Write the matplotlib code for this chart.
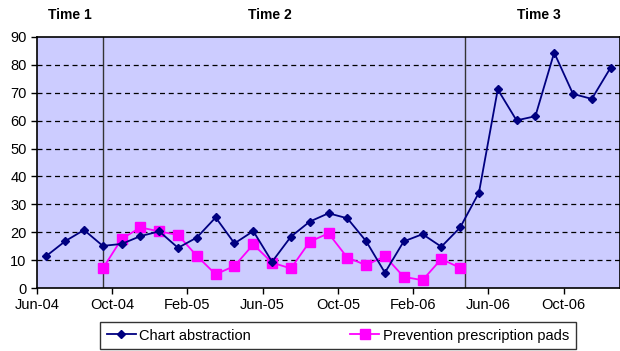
import matplotlib
matplotlib.use("Agg")
import matplotlib.pyplot as plt
import numpy as np

plt.rcParams['font.family'] = ['Liberation Sans', 'DejaVu Sans']

# monthly values, Jun-04 .. Dec-06
months = ['Jun-04', 'Jul-04', 'Aug-04', 'Sep-04', 'Oct-04', 'Nov-04', 'Dec-04',
          'Jan-05', 'Feb-05', 'Mar-05', 'Apr-05', 'May-05', 'Jun-05', 'Jul-05',
          'Aug-05', 'Sep-05', 'Oct-05', 'Nov-05', 'Dec-05', 'Jan-06', 'Feb-06',
          'Mar-06', 'Apr-06', 'May-06', 'Jun-06', 'Jul-06', 'Aug-06', 'Sep-06',
          'Oct-06', 'Nov-06', 'Dec-06']
chart_abstraction = [11.5, 16.8, 20.8, 15.1, 15.8, 18.6, 20.3, 14.4, 18.1, 25.3,
                     16.0, 20.4, 9.4, 18.4, 23.8, 26.8, 25.0, 16.8, 5.5, 16.7,
                     19.3, 14.8, 21.7, 34.2, 71.2, 60.1, 61.6, 84.4, 69.6, 67.8,
                     79.0]
# prevention pads start Sep-04 and end Apr-06
pads_start = 3
prevention_pads = [7.0, 17.6, 21.7, 20.3, 19.0, 11.5, 4.9, 7.9, 15.6, 9.1, 7.0,
                   16.6, 19.6, 10.9, 8.2, 11.4, 4.0, 2.8, 10.4, 7.2]
period_labels = ['Time 1', 'Time 2', 'Time 3']
period_breaks = [3, 22.25]

x = np.arange(len(months))
x_pads = np.arange(pads_start, pads_start + len(prevention_pads))

fig = plt.figure(figsize=(6.2, 3.51), dpi=100)
ax = fig.add_axes([37 / 620, 1 - 288 / 351, 1 - 37 / 620, (288 - 37) / 351])
ax.set_facecolor('#CCCCFF')

for y in range(10, 90, 10):
    ax.axhline(y, color='black', lw=0.9, ls=(0, (4, 3)), zorder=1)
for b in period_breaks:
    ax.axvline(b, color='#333333', lw=1.0, zorder=2)

ax.plot(x, chart_abstraction, color='#000080', lw=1.3, marker='D', ms=4.5,
        label='Chart abstraction', zorder=4)
ax.plot(x_pads, prevention_pads, color='#FF00FF', lw=1.3, marker='s', ms=6.5,
        label='Prevention prescription pads', zorder=3)

ax.set_xlim(-0.5, len(months) - 0.5)
ax.set_ylim(0, 90)
ax.set_yticks(range(0, 91, 10))
tick_pos = np.arange(0, len(months), 4) - 0.5
ax.set_xticks(tick_pos)
ax.set_xticklabels(months[::4])
ax.tick_params(axis='both', labelsize=10.5, direction='out', length=4, width=1)
ax.tick_params(axis='x', pad=3)
for s in ax.spines.values():
    s.set_linewidth(1.2)
    s.set_color('black')

for lbl, px in zip(period_labels, [70, 270, 539]):
    fig.text(px / 620, 1 - 15 / 351, lbl, ha='center', va='center',
             fontsize=10, fontweight='bold')

leg = fig.legend(loc='upper left', bbox_to_anchor=(100 / 620, 1 - 322 / 351),
                 ncol=2, fontsize=10.5, frameon=True, fancybox=False,
                 edgecolor='black', handlelength=2.0, columnspacing=6.8,
                 borderpad=0.45, handletextpad=0.25, borderaxespad=0)
leg.get_frame().set_linewidth(1.0)

fig.savefig('out.png', dpi=100)
